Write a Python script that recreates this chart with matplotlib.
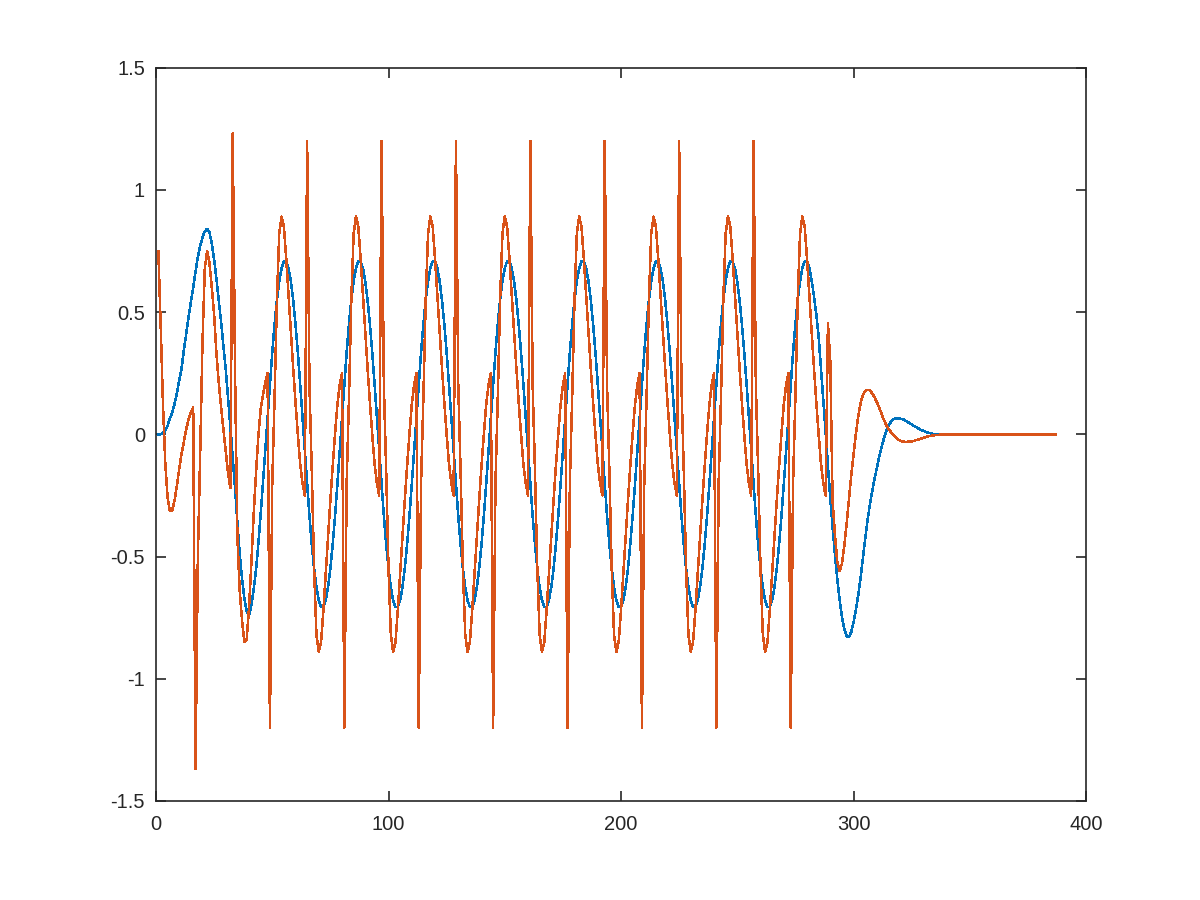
import matplotlib
matplotlib.use("Agg")
import matplotlib.pyplot as plt
import numpy as np

# Signal 1 (blue), sample index 1..353
blue_values = [
    0.0, 0.0, 0.005, 0.015, 0.035, 0.065, 0.09, 0.125, 0.17, 0.22, 0.27, 0.345, 0.41, 0.48, 0.54, 0.60,
    0.665, 0.725, 0.77, 0.805, 0.83, 0.84, 0.825, 0.78, 0.715, 0.635, 0.545, 0.46, 0.36, 0.265, 0.15, 0.03,
    -0.094, -0.22, -0.36, -0.49, -0.59, -0.67, -0.725, -0.74, -0.70, -0.635, -0.555, -0.45, -0.33, -0.20, -0.065,
    0.07, 0.206, 0.335, 0.45, 0.549, 0.626, 0.679, 0.707, 0.707, 0.679, 0.626, 0.549, 0.45, 0.335, 0.206, 0.07,
    -0.07, -0.206, -0.335, -0.45, -0.549, -0.626, -0.679, -0.707, -0.707, -0.679, -0.626, -0.549, -0.45, -0.335, -0.206, -0.07,
    0.07, 0.206, 0.335, 0.45, 0.549, 0.626, 0.679, 0.707, 0.707, 0.679, 0.626, 0.549, 0.45, 0.335, 0.206, 0.07,
    -0.07, -0.206, -0.335, -0.45, -0.549, -0.626, -0.679, -0.707, -0.707, -0.679, -0.626, -0.549, -0.45, -0.335, -0.206, -0.07,
    0.07, 0.206, 0.335, 0.45, 0.549, 0.626, 0.679, 0.707, 0.707, 0.679, 0.626, 0.549, 0.45, 0.335, 0.206, 0.07,
    -0.07, -0.206, -0.335, -0.45, -0.549, -0.626, -0.679, -0.707, -0.707, -0.679, -0.626, -0.549, -0.45, -0.335, -0.206, -0.07,
    0.07, 0.206, 0.335, 0.45, 0.549, 0.626, 0.679, 0.707, 0.707, 0.679, 0.626, 0.549, 0.45, 0.335, 0.206, 0.07,
    -0.07, -0.206, -0.335, -0.45, -0.549, -0.626, -0.679, -0.707, -0.707, -0.679, -0.626, -0.549, -0.45, -0.335, -0.206, -0.07,
    0.07, 0.206, 0.335, 0.45, 0.549, 0.626, 0.679, 0.707, 0.707, 0.679, 0.626, 0.549, 0.45, 0.335, 0.206, 0.07,
    -0.07, -0.206, -0.335, -0.45, -0.549, -0.626, -0.679, -0.707, -0.707, -0.679, -0.626, -0.549, -0.45, -0.335, -0.206, -0.07,
    0.07, 0.206, 0.335, 0.45, 0.549, 0.626, 0.679, 0.707, 0.707, 0.679, 0.626, 0.549, 0.45, 0.335, 0.206, 0.07,
    -0.07, -0.206, -0.335, -0.45, -0.549, -0.626, -0.679, -0.707, -0.707, -0.679, -0.626, -0.549, -0.45, -0.335, -0.206, -0.07,
    0.07, 0.206, 0.335, 0.45, 0.549, 0.626, 0.679, 0.707, 0.707, 0.679, 0.626, 0.549, 0.45, 0.335, 0.206, 0.07,
    -0.07, -0.206, -0.335, -0.45, -0.549, -0.626, -0.679, -0.707, -0.707, -0.679, -0.626, -0.549, -0.45, -0.335, -0.206, -0.07,
    0.07, 0.206, 0.335, 0.45, 0.549, 0.626, 0.679, 0.707, 0.707, 0.679,
    0.63, 0.565, 0.49, 0.40, 0.27, 0.14, 0.01, -0.13, -0.26, -0.38, -0.49, -0.59, -0.675, -0.745, -0.795, -0.825,
    -0.83, -0.81, -0.77, -0.72, -0.66, -0.59, -0.51, -0.43, -0.355, -0.29, -0.235, -0.185, -0.14, -0.095, -0.055, -0.02,
    0.01, 0.033, 0.05, 0.06, 0.064, 0.065, 0.064, 0.062, 0.058, 0.052, 0.046, 0.04, 0.034, 0.029, 0.023, 0.018,
    0.014, 0.01, 0.007, 0.004, 0.002, 0.001, 0.0, -0.001, -0.003, -0.003, -0.003, -0.003, -0.003, -0.003, -0.003, -0.003,
    -0.003, -0.003, -0.003, -0.003, -0.003, -0.003, -0.003, -0.003,
]

# Signal 2 (orange), sample index 1..387
orange_values = [
    0.75, 0.45, 0.12, -0.12, -0.26, -0.315, -0.31, -0.27, -0.21, -0.14, -0.08, -0.03, 0.02, 0.06, 0.09, 0.11,
    -1.37, -0.5, -0.08, 0.38, 0.68, 0.75, 0.70, 0.60, 0.49, 0.33, 0.21, 0.11, 0.02, -0.07, -0.16, -0.22,
    1.23, 0.25, -0.42, -0.64, -0.76, -0.85, -0.84, -0.71, -0.53, -0.33, -0.16, -0.01, 0.10, 0.16, 0.21, 0.25,
    -1.2, -0.2, 0.15, 0.55, 0.82, 0.89, 0.85, 0.72, 0.57, 0.42, 0.27, 0.13, 0.0, -0.12, -0.20, -0.25,
    1.2, 0.2, -0.15, -0.55, -0.82, -0.89, -0.85, -0.72, -0.57, -0.42, -0.27, -0.13, 0.0, 0.12, 0.20, 0.25,
    -1.2, -0.2, 0.15, 0.55, 0.82, 0.89, 0.85, 0.72, 0.57, 0.42, 0.27, 0.13, 0.0, -0.12, -0.20, -0.25,
    1.2, 0.2, -0.15, -0.55, -0.82, -0.89, -0.85, -0.72, -0.57, -0.42, -0.27, -0.13, 0.0, 0.12, 0.20, 0.25,
    -1.2, -0.2, 0.15, 0.55, 0.82, 0.89, 0.85, 0.72, 0.57, 0.42, 0.27, 0.13, 0.0, -0.12, -0.20, -0.25,
    1.2, 0.2, -0.15, -0.55, -0.82, -0.89, -0.85, -0.72, -0.57, -0.42, -0.27, -0.13, 0.0, 0.12, 0.20, 0.25,
    -1.2, -0.2, 0.15, 0.55, 0.82, 0.89, 0.85, 0.72, 0.57, 0.42, 0.27, 0.13, 0.0, -0.12, -0.20, -0.25,
    1.2, 0.2, -0.15, -0.55, -0.82, -0.89, -0.85, -0.72, -0.57, -0.42, -0.27, -0.13, 0.0, 0.12, 0.20, 0.25,
    -1.2, -0.2, 0.15, 0.55, 0.82, 0.89, 0.85, 0.72, 0.57, 0.42, 0.27, 0.13, 0.0, -0.12, -0.20, -0.25,
    1.2, 0.2, -0.15, -0.55, -0.82, -0.89, -0.85, -0.72, -0.57, -0.42, -0.27, -0.13, 0.0, 0.12, 0.20, 0.25,
    -1.2, -0.2, 0.15, 0.55, 0.82, 0.89, 0.85, 0.72, 0.57, 0.42, 0.27, 0.13, 0.0, -0.12, -0.20, -0.25,
    1.2, 0.2, -0.15, -0.55, -0.82, -0.89, -0.85, -0.72, -0.57, -0.42, -0.27, -0.13, 0.0, 0.12, 0.20, 0.25,
    -1.2, -0.2, 0.15, 0.55, 0.82, 0.89, 0.85, 0.72, 0.57, 0.42, 0.27, 0.13, 0.0, -0.12, -0.20, -0.25,
    1.2, 0.2, -0.15, -0.55, -0.82, -0.89, -0.85, -0.72, -0.57, -0.42, -0.27, -0.13, 0.0, 0.12, 0.20, 0.25,
    -1.2, -0.2, 0.15, 0.55, 0.82, 0.89, 0.85, 0.72, 0.57, 0.42, 0.27, 0.13, 0.0, -0.12, -0.20, -0.25,
    0.455, 0.3, -0.27, -0.41, -0.52, -0.56, -0.53, -0.46, -0.37, -0.27, -0.17, -0.085, 0.0, 0.07, 0.125, 0.16,
    0.176, 0.182, 0.18, 0.168, 0.152, 0.132, 0.11, 0.085, 0.06, 0.04, 0.022, 0.01, -0.002, -0.012, -0.02, -0.026,
    -0.029, -0.031, -0.031, -0.03, -0.029, -0.027, -0.024, -0.021, -0.018, -0.015, -0.012, -0.009, -0.007, -0.005, -0.004, -0.003,
    -0.002, -0.001, 0.0, 0.0, 0.0, 0.0, 0.0, 0.0, 0.0, 0.0, 0.0, 0.0, 0.0, 0.0, 0.0, 0.0,
    0.0, 0.0, 0.0, 0.0, 0.0, 0.0, 0.0, 0.0, 0.0, 0.0, 0.0, 0.0, 0.0, 0.0, 0.0, 0.0,
    0.0, 0.0, 0.0, 0.0, 0.0, 0.0, 0.0, 0.0, 0.0, 0.0, 0.0, 0.0, 0.0, 0.0, 0.0, 0.0,
    0.0, 0.0, 0.0,
]

x_ticks = [0, 100, 200, 300, 400]
x_tick_labels = ["0", "100", "200", "300", "400"]
y_ticks = [-1.5, -1, -0.5, 0, 0.5, 1, 1.5]
y_tick_labels = ["-1.5", "-1", "-0.5", "0", "0.5", "1", "1.5"]

plt.rcParams['font.family'] = ['Liberation Sans', 'DejaVu Sans']

fig = plt.figure(figsize=(12, 9), dpi=100)
ax = fig.add_axes([0.13, 0.11, 0.775, 0.815])

x_blue = np.arange(1, len(blue_values) + 1)
x_orange = np.arange(1, len(orange_values) + 1)
ax.plot(x_blue, blue_values, color='#0072BD', linewidth=1.1, antialiased=False)
ax.plot(x_orange, orange_values, color='#D95319', linewidth=1.1, antialiased=False)

ax.set_xlim(0, 400)
ax.set_ylim(-1.5, 1.5)
ax.set_xticks(x_ticks)
ax.set_xticklabels(x_tick_labels)
ax.set_yticks(y_ticks)
ax.set_yticklabels(y_tick_labels)

axis_color = '#262626'
for sp in ax.spines.values():
    sp.set_color(axis_color)
    sp.set_linewidth(1.2)
ax.tick_params(axis='both', direction='in', top=True, right=True, length=7,
               width=1.2, color=axis_color, labelcolor=axis_color, labelsize=14.5)
ax.tick_params(axis='x', pad=10)
ax.tick_params(axis='y', pad=8)

fig.savefig('out.png', dpi=100, facecolor='white')
